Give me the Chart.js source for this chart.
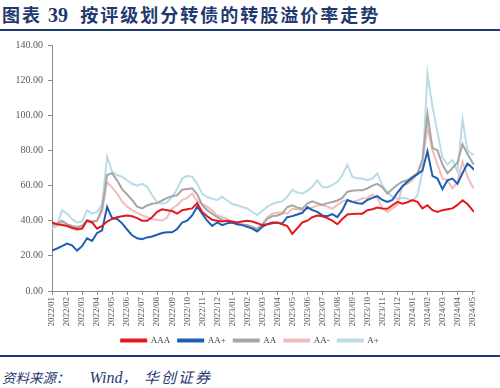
<!DOCTYPE html>
<html><head><meta charset="utf-8">
<script src="https://cdn.jsdelivr.net/npm/chart.js@4/dist/chart.umd.min.js"></script>
<style>
html,body{margin:0;padding:0;background:#fff;}
body{width:500px;height:388px;position:relative;overflow:hidden;}
#title{position:absolute;left:2px;top:1px;font-family:"Noto Sans CJK SC",sans-serif;font-weight:bold;font-size:18px;color:#1f3a70;letter-spacing:2px;white-space:nowrap;}
#title .num{font-family:"Liberation Serif",serif;font-weight:bold;font-size:20px;letter-spacing:0;}
#topline{position:absolute;left:0;top:29px;width:500px;height:2px;background:#1f3a70;}
#wrap{position:absolute;left:0;top:33px;width:500px;height:322px;}
#botline{position:absolute;left:0;top:355px;width:500px;height:2px;background:#1f3a70;}
#source{position:absolute;left:2px;top:366px;font-family:"Noto Sans CJK SC",sans-serif;font-style:italic;font-size:13.5px;color:#1f3a70;white-space:nowrap;}
#source .en{font-family:"Liberation Serif",serif;font-style:italic;font-size:16px;margin-left:20px;}
#source .org{font-size:15px;letter-spacing:2px;margin-left:8px;}
</style></head>
<body>
<div id="title">图表 <span class="num">39</span>&nbsp; 按评级划分转债的转股溢价率走势</div>
<div id="topline"></div>
<div id="wrap"><canvas id="c"></canvas></div>
<div id="botline"></div>
<div id="source">资料来源：<span class="en">Wind</span>，<span class="org">华创证券</span></div>
<script>
// Month tick labels
const monthLabels = ["2022/01","2022/02","2022/03","2022/04","2022/05","2022/06","2022/07","2022/08","2022/09","2022/10","2022/11","2022/12",
"2023/01","2023/02","2023/03","2023/04","2023/05","2023/06","2023/07","2023/08","2023/09","2023/10","2023/11","2023/12",
"2024/01","2024/02","2024/03","2024/04","2024/05"];
// Sample dates (day 1, 11, 21 of each month, then last date)
const sampleDays = [1, 11, 21];
const lastDate = "2024/05/04";
const seriesNames = ["AAA","AA+","AA","AA-","A+"];
const AAA = [39,38,37.5, 37,36,35.3, 35.5,40,39, 35.5,37,39.5, 41,42,42.5, 43,42.5,41.5, 40,40,42, 45,46.5,46, 45.5,44,46, 46.5,47,50, 45,42.5,40.5, 40,39.5,40, 39.5,39,39.5, 40,39.5,38.6, 37.5,38,38.5, 39,38,37, 32.5,35.7,39, 40,42,43, 42.5,41.5,40, 38,41,43.5, 43.8,44,44, 46,46.5,47.5, 47,46.8,48.8, 50.7,49.7,50.5, 51.8,50.7,47, 48.8,46,45, 46,46.5,47, 49,51.6,49.5, 46,45];
const AAplus = [23,24.2,25.5, 27,26,23, 25.5,30,28.5, 33,34.5,47.8, 41.5,41,38.5, 35,31.7,30, 29.5,30.5,31, 32,33,33.4, 33.4,35.3,39, 40,43,48, 44,40,37, 39,37.5,38.5, 39,38,37.5, 36.5,35.5,33.9, 36.5,38,39, 38.8,38.4,42, 42.6,43.5,44.5, 47.8,46,45, 43,42.6,43.8, 42,46,51.8, 50.7,50,49.7, 51.8,53,54, 51.8,50.7,51.8, 56,59.5,62.2, 64.5,66.5,68.5, 79.5,65.5,64, 58,63,64, 61,67,72.5, 70,69];
const AA = [37.4,38.5,40, 38,37,36.5, 37,40.3,39.5, 40,47,66, 67,63,58, 55,51.8,48, 47,48.7,49.6, 50,51.5,53, 54,54.5,57.6, 58,58.4,55, 48.9,46,44, 42,40.5,39.5, 39,38,37.5, 37.5,36.5,35.3, 38,41,42.6, 43,44,47.8, 48.8,47.5,46.8, 49.7,51,50, 49,50,50.7, 51.5,53,56.5, 57,57.4,57.4, 58.4,60,61, 59,55.5,58, 60.5,62.2,63, 65,67,75, 100.8,81.5,80, 72,67,70, 73,83.5,78, 73,72];
const AAminus = [37.4,38,39, 37,35.5,34.5, 35.3,40.3,39, 40,45,62, 59,55.5,51, 48,46,44.5, 43,42,41, 40.5,40,42, 47,48.8,51.8, 53,55.5,51, 49.6,48,46, 43,42,41, 39,38.5,38, 37.5,36.5,35, 37.5,42,44, 44.5,44.7,44, 46.8,46.5,46, 46.5,47.5,48.8, 48.8,48,46.8, 49,51,51.8, 50.7,51.5,52.6, 53,55,53, 47,45,47, 49,60,61, 63,67,72.8, 93,80,72, 64,63,58.4, 62,73.7,65, 59.5,58.4];
const Aplus = [35.5,37,46, 44,41,39, 39.5,46,44, 45,49,76.6, 68,66,65, 63,61,60, 61,59.3,54.5, 50.5,49.6,50.5, 53.6,58,64, 65.5,65,61, 55.5,53.5,52.5, 51.8,53.6,51.5, 49.5,48.8,47.8, 47,45,43.2, 45.5,48,49.5, 50.5,51,53.6, 57.6,56,55.5, 57,59.3,63, 59,59,60.3, 62,66,71.8, 65,64,64, 63,64,67, 60,56,53.6, 52.5,53,52.6, 51,54.5,68, 123.7,105,90, 76,72,74.5, 68,97.7,80, 77.6,78];
const yTicks = {min:0, max:140, step:20};

// build date list
const dates = [];
monthLabels.slice(0, monthLabels.length-1).forEach(m => sampleDays.forEach(d => dates.push(m + "/" + String(d).padStart(2,"0"))));
dates.push(monthLabels[monthLabels.length-1] + "/01");
dates.push(lastDate);
function toMonthIndex(s){ const [y,m,d] = s.split("/").map(Number); return (y-2022)*12 + (m-1) + (d-1)/30; }
const xs = dates.map(toMonthIndex);

const colors = ["#e2191f","#1a5fb4","#a6a6a6","#f2bcbc","#b9dce7"];
const allSeries = [AAA, AAplus, AA, AAminus, Aplus];
const datasets = allSeries.map((s,i)=>({
  label: seriesNames[i],
  data: s.map((v,k)=>({x: xs[k], y: v})),
  borderColor: colors[i], backgroundColor: colors[i],
  borderWidth: 2, pointRadius: 0, tension: 0, fill: false
}));

const serif = "'Liberation Serif', 'Times New Roman', serif";
new Chart(document.getElementById("c"), {
  type: "line",
  data: { datasets },
  options: {
    responsive: true, maintainAspectRatio: false, animation: false,
    layout: { padding: { left: 0, right: 0, top: 12, bottom: 0 } },
    plugins: {
      legend: {
        position: "bottom",
        labels: { boxWidth: 25, boxHeight: 2, padding: 8, color: "#404040", font: { family: serif, size: 9 } }
      },
      tooltip: { enabled: false }
    },
    scales: {
      x: {
        type: "linear", min: 0, max: xs[xs.length-1],
        afterFit: s => { s.height = 37; },
        grid: { drawOnChartArea: false, drawTicks: true, tickLength: 4, color: "#8c8c8c" },
        border: { display: true, color: "#8c8c8c", width: 1 },
        ticks: {
          stepSize: 1, includeBounds: false, autoSkip: false, maxRotation: 90, minRotation: 90, padding: 2,
          color: "#595959", font: { family: serif, size: 9 },
          callback: v => Number.isInteger(v) ? (monthLabels[v] || "") : ""
        }
      },
      y: {
        min: yTicks.min, max: yTicks.max,
        afterFit: s => { s.width = 52; },
        grid: { drawOnChartArea: false, drawTicks: true, tickLength: 4, color: "#8c8c8c" },
        border: { display: true, color: "#8c8c8c", width: 1 },
        ticks: { stepSize: yTicks.step, padding: 5, color: "#595959", font: { family: serif, size: 10 }, callback: v => v.toFixed(2) }
      },
      yRight: {
        position: "right", min: yTicks.min, max: yTicks.max,
        afterFit: s => { s.width = 26; },
        grid: { display: false }, border: { display: false }, ticks: { display: false }
      }
    }
  }
});
</script>
</body></html>
